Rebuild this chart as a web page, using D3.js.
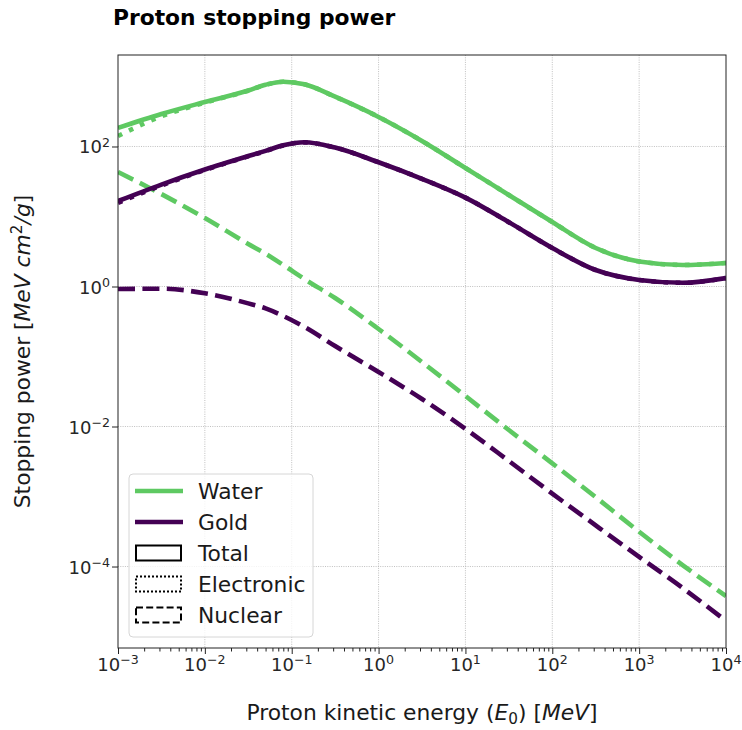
<!DOCTYPE html>
<html>
<head>
<meta charset="utf-8">
<script src="https://cdn.jsdelivr.net/npm/d3@7/dist/d3.min.js"></script>
<style>
  html, body { margin: 0; padding: 0; background: #fff; }
  svg { display: block; font-family: "DejaVu Sans", sans-serif; }
</style>
</head>
<body>
<svg id="chart" width="742" height="730"></svg>
<script>
// Proton kinetic energy grid, MeV
const energies = [1e-3, 3.16e-3, 1e-2, 3.16e-2, 0.05, 0.08, 0.14, 0.316, 1, 3.16, 10, 31.6, 100, 316, 1000, 3162, 1e4];

// Stopping power, MeV cm^2/g
const waterTotal      = [184, 291, 432, 631, 763, 843, 774, 514, 264, 120, 49.3, 20.3, 8.34, 3.55, 2.28, 2.03, 2.17];
const waterElectronic = [141, 270, 423, 627, 760, 841, 773, 513, 264, 120, 49.3, 20.3, 8.34, 3.55, 2.28, 2.03, 2.17];
const waterNuclear    = [43.2, 20.9, 9.52, 4.05, 2.94, 2.03, 1.28, 0.685, 0.247, 0.0834, 0.0273, 0.0089, 0.00298, 0.00098, 3.14e-4, 1.05e-4, 3.79e-5];

const goldTotal      = [16.6, 28.6, 46.9, 73, 86.5, 104, 115, 96.5, 59.5, 34.5, 18.6, 8.3, 3.55, 1.72, 1.24, 1.13, 1.32];
const goldElectronic = [15.7, 27.7, 46.1, 72.4, 86.0, 103.6, 114.7, 96.4, 59.4, 34.5, 18.6, 8.3, 3.55, 1.72, 1.24, 1.13, 1.32];
const goldNuclear    = [0.921, 0.93, 0.80, 0.574, 0.487, 0.379, 0.265, 0.141, 0.0601, 0.0247, 0.00927, 0.00322, 0.0011, 3.87e-4, 1.37e-4, 4.94e-5, 1.67e-5];

const xTickExponents = [-3, -2, -1, 0, 1, 2, 3, 4];
const yTickExponents = [-4, -2, 0, 2];

const materials = ["Water", "Gold"];
const components = ["Total", "Electronic", "Nuclear"];

const colors = { Water: "#5ec962", Gold: "#440154" };
const lineWidth = 4.6;
const dashes = { Total: null, Electronic: "4.6,7.6", Nuclear: "17,7.4" };

const series = [
  { material: "Water", component: "Total", values: waterTotal },
  { material: "Water", component: "Electronic", values: waterElectronic },
  { material: "Water", component: "Nuclear", values: waterNuclear },
  { material: "Gold", component: "Total", values: goldTotal },
  { material: "Gold", component: "Electronic", values: goldElectronic },
  { material: "Gold", component: "Nuclear", values: goldNuclear }
];

const W = 742, H = 730;
const margin = { top: 55, right: 16, bottom: 82, left: 118 };
const pw = W - margin.left - margin.right;
const ph = H - margin.top - margin.bottom;

const svg = d3.select("#chart");
const font = "DejaVu Sans";
const textSize = 21.8;

const x = d3.scaleLog().domain([1e-3, 1e4]).range([0, pw]);
const y = d3.scaleLog().domain([Math.pow(10, -5.164), Math.pow(10, 3.307)]).range([ph, 0]);

const g = svg.append("g").attr("transform", `translate(${margin.left},${margin.top})`);

// grid
const grid = g.append("g").attr("class", "grid");
grid.selectAll("line.gx").data(xTickExponents.slice(1, -1)).join("line")
  .attr("x1", d => x(Math.pow(10, d))).attr("x2", d => x(Math.pow(10, d)))
  .attr("y1", 0).attr("y2", ph)
  .attr("stroke", "#b0b0b0").attr("stroke-width", 0.8).attr("stroke-dasharray", "1,1.3");
grid.selectAll("line.gy").data(yTickExponents).join("line")
  .attr("y1", d => y(Math.pow(10, d))).attr("y2", d => y(Math.pow(10, d)))
  .attr("x1", 0).attr("x2", pw)
  .attr("stroke", "#b0b0b0").attr("stroke-width", 0.8).attr("stroke-dasharray", "1,1.3");

// curves
g.append("clipPath").attr("id", "plotclip").append("rect")
  .attr("x", 0).attr("y", 0).attr("width", pw).attr("height", ph);

const line = d3.line()
  .x(d => x(d[0]))
  .y(d => y(d[1]))
  .curve(d3.curveMonotoneX);

g.append("g").attr("clip-path", "url(#plotclip)")
  .selectAll("path").data(series).join("path")
  .attr("d", s => line(energies.map((e, i) => [e, s.values[i]])))
  .attr("fill", "none")
  .attr("stroke", s => colors[s.material])
  .attr("stroke-width", lineWidth)
  .attr("stroke-dasharray", s => dashes[s.component]);

// axes
const xMajor = xTickExponents.map(e => Math.pow(10, e));
const xMinor = [];
for (let e = -3; e < 4; e++) for (let k = 2; k <= 9; k++) xMinor.push(k * Math.pow(10, e));

const xAxis = g.append("g").attr("transform", `translate(0,${ph})`)
  .call(d3.axisBottom(x).tickValues(xMajor).tickSize(6).tickSizeOuter(0).tickFormat(""));
g.append("g").attr("transform", `translate(0,${ph})`)
  .call(d3.axisBottom(x).tickValues(xMinor).tickSize(3.5).tickSizeOuter(0).tickFormat(""))
  .call(a => a.select(".domain").remove());

const yAxis = g.append("g")
  .call(d3.axisLeft(y).tickValues(yTickExponents.map(e => Math.pow(10, e))).tickSize(6).tickSizeOuter(0).tickFormat(""));

[xAxis, yAxis].forEach(a => a.select(".domain").remove());
g.selectAll(".tick line").attr("stroke", "#222").attr("stroke-width", 1);

function powLabel(sel, exp) {
  sel.append("tspan").text("10");
  sel.append("tspan").attr("dy", "-0.55em").attr("font-size", "0.7em")
    .text(exp < 0 ? "\u2212" + Math.abs(exp) : String(exp));
}

g.append("g").selectAll("text").data(xTickExponents).join("text")
  .attr("x", d => x(Math.pow(10, d)))
  .attr("y", ph + 23)
  .attr("text-anchor", "middle")
  .attr("font-family", font).attr("font-size", 18).attr("fill", "#262626")
  .each(function (d) { powLabel(d3.select(this), d); });

g.append("g").selectAll("text").data(yTickExponents).join("text")
  .attr("x", -8)
  .attr("y", d => y(Math.pow(10, d)) + 7)
  .attr("text-anchor", "end")
  .attr("font-family", font).attr("font-size", 18).attr("fill", "#262626")
  .each(function (d) { powLabel(d3.select(this), d); });

// frame
g.append("rect").attr("x", 0).attr("y", 0).attr("width", pw).attr("height", ph)
  .attr("fill", "none").attr("stroke", "#222").attr("stroke-width", 1);

// legend
const lg = g.append("g").attr("transform", `translate(${129 - margin.left},${474 - margin.top})`);
lg.append("rect").attr("width", 184).attr("height", 163).attr("rx", 4)
  .attr("fill", "#fff").attr("fill-opacity", 0.8)
  .attr("stroke", "#d6d6d6").attr("stroke-width", 1);

const rowY = i => 17 + i * 31;
const patchDash = { Total: null, Electronic: "2,2", Nuclear: "7,3.2" };
const legendItems = materials.map(m => ({ label: m, kind: "line", color: colors[m] }))
  .concat(components.map(c => ({ label: c, kind: "patch", dash: patchDash[c] })));

legendItems.forEach((it, i) => {
  const ry = rowY(i);
  if (it.kind === "line") {
    lg.append("line").attr("x1", 6).attr("x2", 54).attr("y1", ry).attr("y2", ry)
      .attr("stroke", it.color).attr("stroke-width", lineWidth);
  } else {
    lg.append("rect").attr("x", 7).attr("y", ry - 7.5).attr("width", 45).attr("height", 15)
      .attr("fill", "none").attr("stroke", "#000").attr("stroke-width", 2)
      .attr("stroke-dasharray", it.dash);
  }
  lg.append("text").attr("x", 69).attr("y", ry + 7.5)
    .attr("font-family", font).attr("font-size", textSize).attr("fill", "#1a1a1a")
    .text(it.label);
});

// title
svg.append("text").attr("x", 113).attr("y", 25)
  .attr("font-family", font).attr("font-size", textSize).attr("font-weight", "bold")
  .attr("fill", "#000").text("Proton stopping power");

// x axis title
const xt = svg.append("text").attr("x", margin.left + pw / 2).attr("y", 720)
  .attr("text-anchor", "middle").attr("font-family", font).attr("font-size", textSize).attr("fill", "#1a1a1a");
xt.append("tspan").text("Proton kinetic energy (");
xt.append("tspan").attr("font-style", "italic").text("E");
xt.append("tspan").attr("font-size", "0.7em").attr("dy", "0.25em").text("0");
xt.append("tspan").attr("dy", "-0.175em").text(") [");
xt.append("tspan").attr("font-style", "italic").text("MeV");
xt.append("tspan").text("]");

// y axis title
const yt = svg.append("text")
  .attr("transform", `translate(30,${margin.top + ph / 2}) rotate(-90)`)
  .attr("text-anchor", "middle").attr("font-family", font).attr("font-size", textSize).attr("fill", "#1a1a1a");
yt.append("tspan").text("Stopping power [");
yt.append("tspan").attr("font-style", "italic").text("MeV cm");
yt.append("tspan").attr("font-size", "0.7em").attr("dy", "-0.55em").text("2");
yt.append("tspan").attr("font-style", "italic").attr("dy", "0.385em").text("/g");
yt.append("tspan").text("]");
</script>
</body>
</html>
